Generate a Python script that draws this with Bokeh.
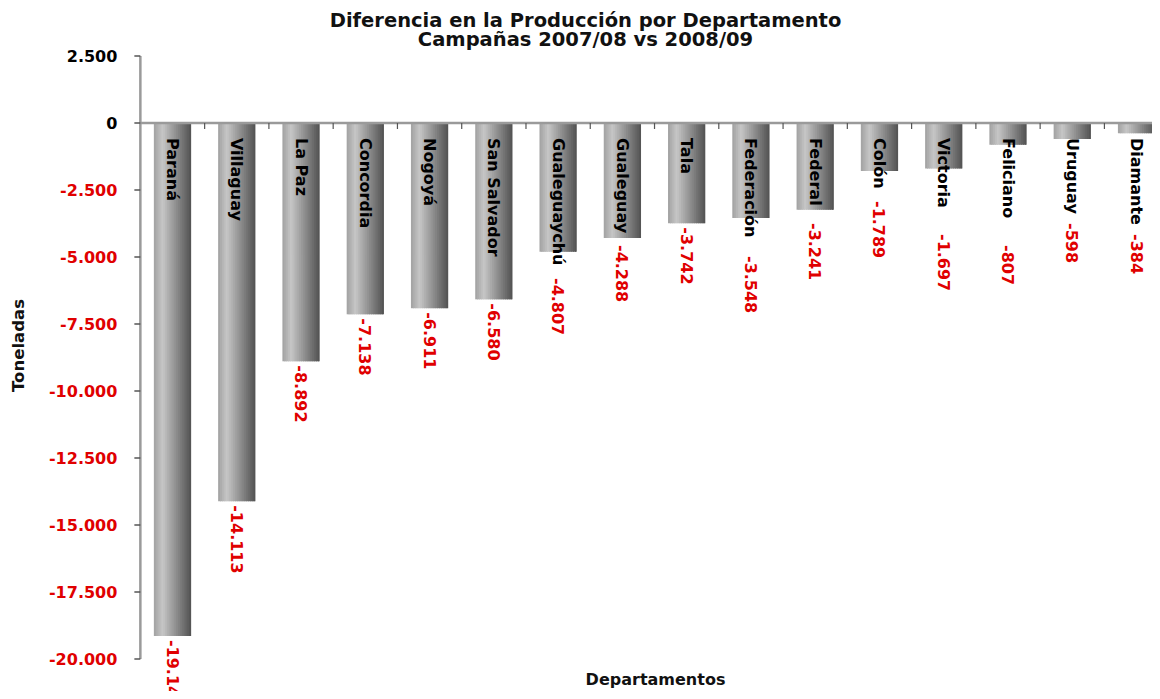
import math
from bokeh.plotting import figure
from bokeh.models import Range1d
from bokeh.core.properties import value
from bokeh.embed import file_html
from bokeh.resources import INLINE

# ---------------- data ----------------
departamentos = ["Paraná", "Villaguay", "La Paz", "Concordia", "Nogoyá", "San Salvador",
                 "Gualeguaychú", "Gualeguay", "Tala", "Federación", "Federal", "Colón",
                 "Victoria", "Feliciano", "Uruguay", "Diamante"]
diferencia = [-19140, -14113, -8892, -7138, -6911, -6580, -4807, -4288, -3742, -3548,
              -3241, -1789, -1697, -807, -598, -384]
y_ticks = [2500, 0, -2500, -5000, -7500, -10000, -12500, -15000, -17500, -20000]
title_lines = ["Diferencia en la Producción por Departamento", "Campañas 2007/08 vs 2008/09"]
x_title = "Departamentos"
y_title = "Toneladas"

# ---------------- layout ----------------
W, H = 1152, 691
ORIGIN = 0.0            # observed page offset of the canvas
CAT_PX = 64.27          # pixels per category
FIRST_PX = 172.0        # page x of first category centre
ZERO_PY = 122.5         # page y of value 0
UNIT_PX = 0.0268        # pixels per tonne


def px_x(page_x):
    return (page_x - FIRST_PX) / CAT_PX


def py_y(page_y):
    return (ZERO_PY - page_y) / UNIT_PX


FONT = value("DejaVu Sans")
RED = "#e00000"

p = figure(width=W, height=H, output_backend="svg", toolbar_location=None,
           x_range=Range1d(px_x(ORIGIN), px_x(ORIGIN + W)),
           y_range=Range1d(py_y(ORIGIN + H), py_y(ORIGIN)),
           x_axis_location=None, y_axis_location=None, min_border=0)
p.grid.visible = False
p.outline_line_color = None
p.background_fill_color = "white"

idx = list(range(len(departamentos)))

# bars as a horizontal gradient of narrow overlapping strips
bw = 0.58
n = 20


def shade(t):
    if t < 0.22:
        g = 165 + (198 - 165) * (t / 0.22)
    else:
        g = 198 + (85 - 198) * ((t - 0.22) / 0.78)
    g = int(round(g))
    return "#%02x%02x%02x" % (g, g, g)


sw = bw / n
for k in range(n):
    off = -bw / 2 + (k + 0.5) * sw
    if k < n - 1:
        wk = sw * 1.6
        xk = off + (wk - sw) / 2
    else:
        wk = sw
        xk = off
    p.vbar(x=[i + xk for i in idx], top=0, bottom=diferencia, width=wk,
           fill_color=shade(k / (n - 1)), line_color=None)

# zero line and category boundary ticks
p.segment(x0=-0.5, y0=0, x1=px_x(ORIGIN + W), y1=0, line_color="#9a9a9a", line_width=2.5)
bounds = [i + 0.5 for i in idx[:-1]]
p.segment(x0=bounds, y0=[0] * len(bounds), x1=bounds, y1=[py_y(ZERO_PY + 6)] * len(bounds),
          line_color="#555555", line_width=1.2)

# y axis
p.segment(x0=-0.5, y0=max(y_ticks), x1=-0.5, y1=min(y_ticks), line_color="#9a9a9a", line_width=2.5)
p.segment(x0=[-0.5 - 6 / CAT_PX] * len(y_ticks), y0=y_ticks, x1=[-0.5] * len(y_ticks), y1=y_ticks,
          line_color="#555555", line_width=1.5)
tick_labels = [f"{t:,}".replace(",", ".") for t in y_ticks]
tick_colors = [RED if t < 0 else "black" for t in y_ticks]
p.text(x=[-0.5] * len(y_ticks), y=y_ticks, text=tick_labels, text_color=tick_colors,
       x_offset=-23, text_align="right", text_baseline="middle",
       text_font=FONT, text_font_style="bold", text_font_size="16px")

# category labels inside bars
p.text(x=idx, y=[0] * len(idx), text=departamentos, angle=-math.pi / 2, y_offset=15,
       text_align="left", text_baseline="middle", text_color="black",
       text_font=FONT, text_font_style="bold", text_font_size="16px")

# value labels below bars (or below the category label when that is longer)
CHAR_PX = 11.0
val_y = []
for name, v in zip(departamentos, diferencia):
    label_end_px = 15 + len(name) * CHAR_PX + 4
    val_y.append(min(v, -label_end_px / UNIT_PX))
val_text = [f"{v:,}".replace(",", ".") for v in diferencia]
p.text(x=idx, y=val_y, text=val_text, angle=-math.pi / 2, y_offset=4,
       text_align="left", text_baseline="middle", text_color=RED,
       text_font=FONT, text_font_style="bold", text_font_size="16px")

# titles
p.text(x=[px_x(585)] * 2, y=[py_y(20), py_y(39)], text=title_lines,
       text_align="center", text_baseline="middle", text_color="#111111",
       text_font=FONT, text_font_style="bold", text_font_size="19.5px")
p.text(x=[px_x(655)], y=[py_y(679)], text=[x_title], text_align="center", text_baseline="middle",
       text_color="#111111", text_font=FONT, text_font_style="bold", text_font_size="16px")
p.text(x=[px_x(18)], y=[py_y(345)], text=[y_title], angle=math.pi / 2, text_align="center",
       text_baseline="middle", text_color="#111111",
       text_font=FONT, text_font_style="bold", text_font_size="16.5px")

open("out.html", "w").write(file_html(p, INLINE))
